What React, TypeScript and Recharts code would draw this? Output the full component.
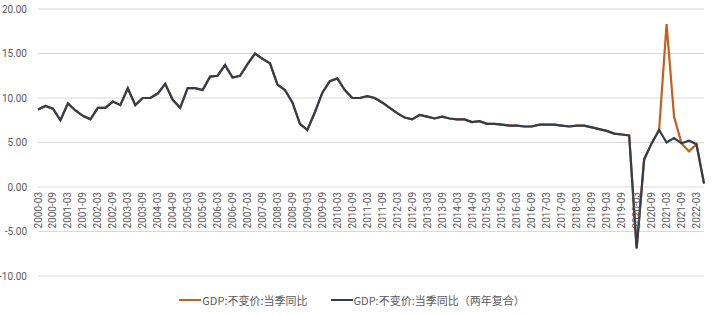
import React from 'react';
import { LineChart, Line, XAxis, YAxis, CartesianGrid, Legend } from 'recharts';

// quarter labels 2000-03 ... 2022-06
const years = Array.from({ length: 23 }, (_, i) => 2000 + i);
const months = ['03', '06', '09', '12'];
const quarters: string[] = years
  .flatMap((y) => months.map((m) => `${y}-${m}`))
  .slice(0, 90);

// GDP:不变价:当季同比
const gdpYoy = [
  8.7, 9.1, 8.8, 7.5, 9.4, 8.6, 8.0, 7.6,
  8.9, 8.9, 9.6, 9.2, 11.1, 9.2, 10.0, 10.0,
  10.5, 11.6, 9.8, 8.9, 11.1, 11.1, 10.9, 12.4,
  12.5, 13.7, 12.3, 12.5, 13.8, 15.0, 14.4, 13.9,
  11.5, 10.9, 9.5, 7.1, 6.4, 8.4, 10.6, 11.9,
  12.2, 10.9, 10.0, 10.0, 10.2, 10.0, 9.5, 8.9,
  8.3, 7.8, 7.6, 8.1, 7.9, 7.7, 7.9, 7.7,
  7.6, 7.6, 7.3, 7.4, 7.1, 7.1, 7.0, 6.9,
  6.9, 6.8, 6.8, 7.0, 7.0, 7.0, 6.9, 6.8,
  6.9, 6.9, 6.7, 6.5, 6.3, 6.0, 5.9, 5.8,
  -6.9, 3.1, 4.9, 6.4, 18.3, 7.9, 4.9, 4.0,
  4.8, 0.4,
];

// GDP:不变价:当季同比（两年复合）
const gdpYoy2y = [
  8.7, 9.1, 8.8, 7.5, 9.4, 8.6, 8.0, 7.6,
  8.9, 8.9, 9.6, 9.2, 11.1, 9.2, 10.0, 10.0,
  10.5, 11.6, 9.8, 8.9, 11.1, 11.1, 10.9, 12.4,
  12.5, 13.7, 12.3, 12.5, 13.8, 15.0, 14.4, 13.9,
  11.5, 10.9, 9.5, 7.1, 6.4, 8.4, 10.6, 11.9,
  12.2, 10.9, 10.0, 10.0, 10.2, 10.0, 9.5, 8.9,
  8.3, 7.8, 7.6, 8.1, 7.9, 7.7, 7.9, 7.7,
  7.6, 7.6, 7.3, 7.4, 7.1, 7.1, 7.0, 6.9,
  6.9, 6.8, 6.8, 7.0, 7.0, 7.0, 6.9, 6.8,
  6.9, 6.9, 6.7, 6.5, 6.3, 6.0, 5.9, 5.8,
  -6.9, 3.1, 4.9, 6.4, 5.0, 5.5, 4.9, 5.2,
  4.8, 0.4,
];

const yTicks = [-10, -5, 0, 5, 10, 15, 20];
const Y_MIN = -10;
const Y_MAX = 20;

const seriesNames = ['GDP:不变价:当季同比', 'GDP:不变价:当季同比（两年复合）'];
const seriesColors = ['#c65f1c', '#323e4f'];

const data = quarters.map((q, i) => ({
  q,
  yoy: gdpYoy[i],
  yoy2y: gdpYoy2y[i],
}));

const CHART_W = 715;
const CHART_H = 315;
const MARGIN = { top: 9, right: 11, bottom: 8, left: 0 };
const Y_AXIS_W = 38;
const X_AXIS_H = 1;
const LEGEND_H = 30;

const plotTop = MARGIN.top;
const plotBottom = CHART_H - MARGIN.bottom - LEGEND_H - X_AXIS_H;
// category labels sit just under the zero line, like the excel original
const zeroY = plotBottom - ((plotBottom - plotTop) * (0 - Y_MIN)) / (Y_MAX - Y_MIN);

const labelFont = 'Roboto, "Noto Sans", sans-serif';

const QuarterTick = ({ x, payload }: any) => {
  const ty = zeroY + 5;
  return (
    <text
      x={x}
      y={ty}
      dy="0.35em"
      textAnchor="end"
      transform={`rotate(-90, ${x}, ${ty})`}
      fontSize={10}
      fill="#595959"
      fontFamily={labelFont}
    >
      {payload.value}
    </text>
  );
};

const renderLegend = () => (
  <div
    style={{
      display: 'flex',
      justifyContent: 'center',
      alignItems: 'center',
      paddingTop: 15,
      fontSize: 11,
      color: '#595959',
      fontFamily: '"Noto Sans CJK SC", sans-serif',
    }}
  >
    {seriesNames.map((name, i) => (
      <div key={name} style={{ display: 'flex', alignItems: 'center', marginRight: i === 0 ? 23 : 0 }}>
        <span style={{ display: 'inline-block', width: 22, height: 2, background: seriesColors[i], marginRight: 1 }} />
        <span>{name}</span>
      </div>
    ))}
  </div>
);

export default function App() {
  return (
    <div style={{ position: 'absolute', left: 0, top: 0, width: CHART_W, height: CHART_H, background: '#fff' }}>
      <LineChart width={CHART_W} height={CHART_H} data={data} margin={MARGIN}>
        <CartesianGrid vertical={false} stroke="#d9d9d9" />
        <XAxis
          dataKey="q"
          interval={1}
          height={X_AXIS_H}
          axisLine={false}
          tickLine={false}
          tick={<QuarterTick />}
        />
        <YAxis
          domain={[Y_MIN, Y_MAX]}
          ticks={yTicks}
          width={Y_AXIS_W}
          axisLine={false}
          tickLine={false}
          tickMargin={5}
          tick={{ fontSize: 10, fill: '#595959', fontFamily: labelFont }}
          tickFormatter={(v: number) => v.toFixed(2)}
        />
        <Legend verticalAlign="bottom" height={LEGEND_H} content={renderLegend} />
        <Line
          type="linear"
          dataKey="yoy"
          name={seriesNames[0]}
          stroke={seriesColors[0]}
          strokeWidth={2.2}
          dot={false}
          isAnimationActive={false}
        />
        <Line
          type="linear"
          dataKey="yoy2y"
          name={seriesNames[1]}
          stroke={seriesColors[1]}
          strokeWidth={2.2}
          dot={false}
          isAnimationActive={false}
        />
      </LineChart>
    </div>
  );
}
